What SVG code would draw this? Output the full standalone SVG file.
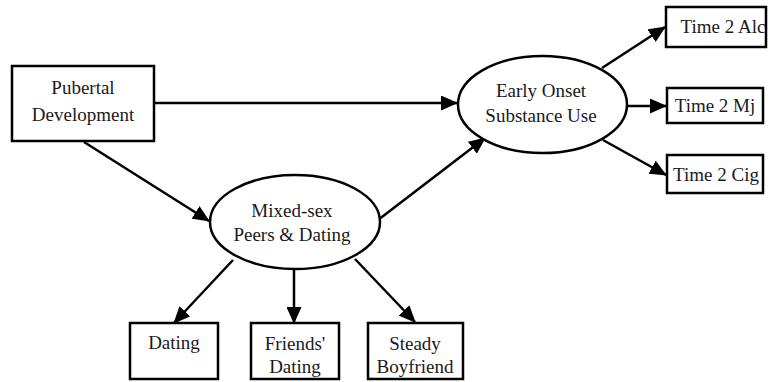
<svg xmlns="http://www.w3.org/2000/svg" width="772" height="382" viewBox="0 0 772 382">
<style>
.box{fill:#fff;stroke:#000;stroke-width:2.5}
.ell{fill:#fff;stroke:#000;stroke-width:2.5}
.t{font-family:"Liberation Serif","Times New Roman",serif;font-size:19px;fill:#1a1a1a;text-anchor:middle}
.c{stroke:#000;stroke-width:2.5;fill:none;marker-end:url(#ah)}
</style>
<defs>
<marker id="ah" markerUnits="userSpaceOnUse" markerWidth="17" markerHeight="15" refX="16" refY="7.5" orient="auto">
<path d="M0,0 L17,7.5 L0,15 Z" fill="#000"/>
</marker>
</defs>
<rect width="772" height="382" fill="#fff"/>
<g id="connectors">
<line class="c" x1="154" y1="103" x2="457" y2="103"/>
<line class="c" x1="84" y1="142" x2="209" y2="221"/>
<line class="c" x1="378" y1="220" x2="485" y2="138"/>
<line class="c" x1="602" y1="68" x2="665" y2="27"/>
<line class="c" x1="627" y1="106" x2="666" y2="106"/>
<line class="c" x1="603" y1="140" x2="666" y2="175"/>
<line class="c" x1="233" y1="260" x2="174" y2="323"/>
<line class="c" x1="294" y1="270" x2="294" y2="323"/>
<line class="c" x1="355" y1="259" x2="415" y2="322"/>
</g>
<g id="pubertal">
<rect class="box" x="12" y="66" width="142" height="75"/>
<text class="t" x="83" y="94">Pubertal</text>
<text class="t" x="83" y="121">Development</text>
</g>
<g id="mixed">
<ellipse class="ell" cx="295" cy="222" rx="85" ry="47"/>
<text class="t" x="292" y="217">Mixed-sex</text>
<text class="t" x="292" y="241">Peers &amp; Dating</text>
</g>
<g id="early">
<ellipse class="ell" cx="542.5" cy="104.5" rx="84.5" ry="48.5"/>
<text class="t" x="541" y="97">Early Onset</text>
<text class="t" x="541" y="122">Substance Use</text>
</g>
<g id="alc">
<rect class="box" x="666" y="7" width="100" height="40"/>
<text class="t" x="723" y="33">Time 2 Alc</text>
</g>
<g id="mj">
<rect class="box" x="667" y="88" width="96" height="35"/>
<text class="t" x="715" y="112">Time 2 Mj</text>
</g>
<g id="cig">
<rect class="box" x="667" y="155" width="96" height="38"/>
<text class="t" x="716" y="181">Time 2 Cig</text>
</g>
<g id="dating">
<rect class="box" x="130" y="323" width="88" height="56"/>
<text class="t" x="174" y="349">Dating</text>
</g>
<g id="friends">
<rect class="box" x="251" y="323" width="88" height="56"/>
<text class="t" x="295" y="350">Friends'</text>
<text class="t" x="295" y="373">Dating</text>
</g>
<g id="steady">
<rect class="box" x="368" y="323" width="95" height="56"/>
<text class="t" x="415" y="350">Steady</text>
<text class="t" x="415" y="373">Boyfriend</text>
</g>
</svg>
